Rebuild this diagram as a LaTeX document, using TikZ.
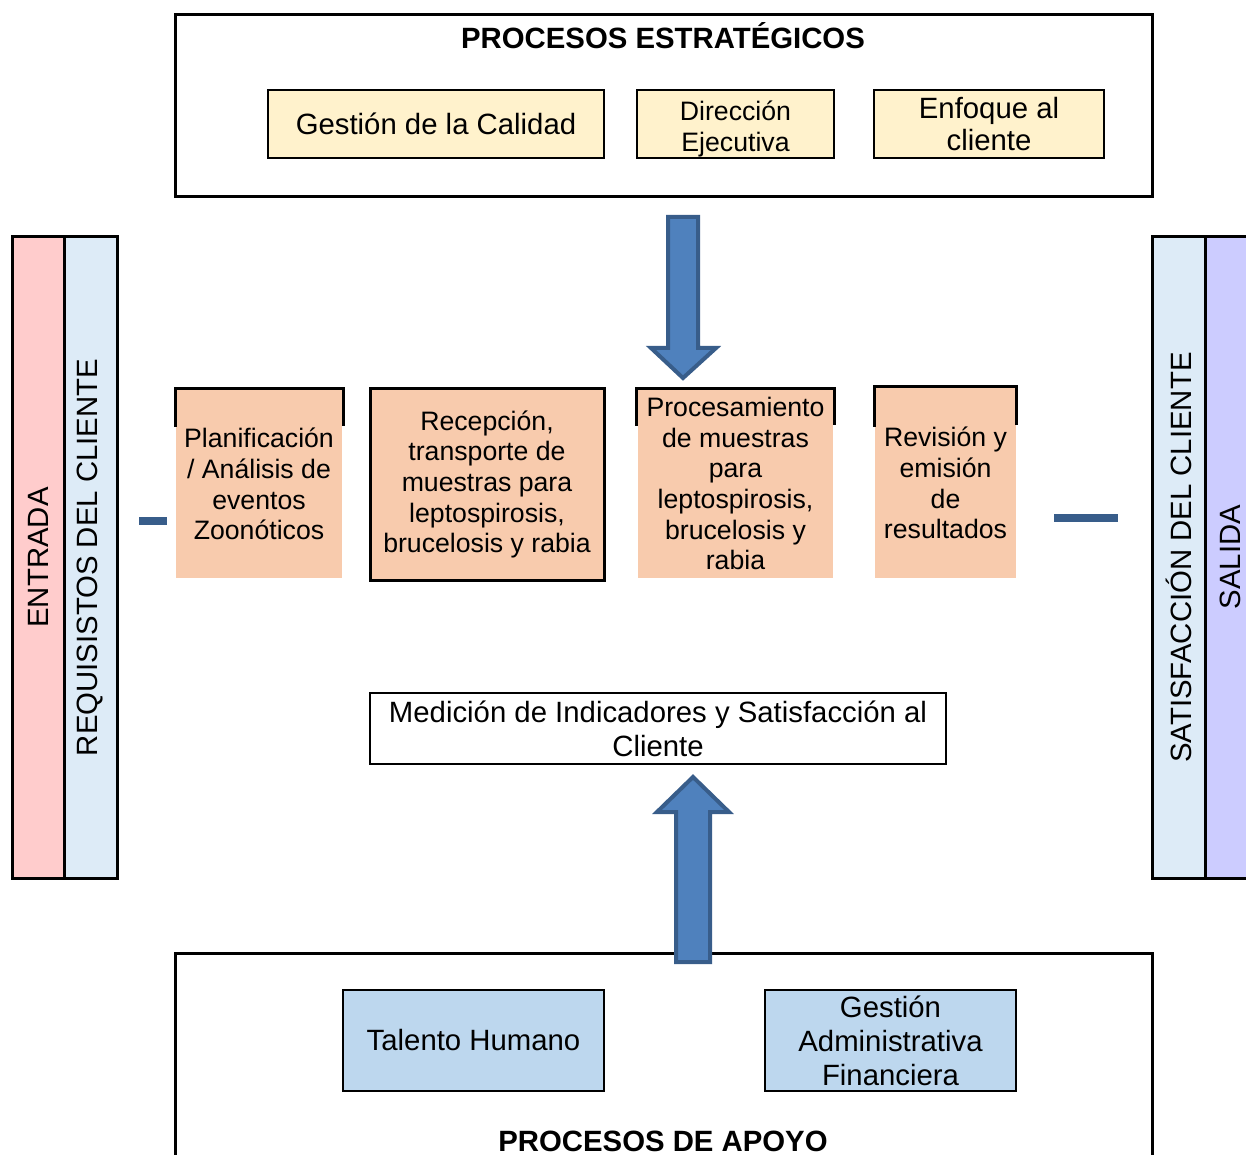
\documentclass[tikz,border=0pt]{standalone}
\usepackage{fontspec}
\setmainfont{Liberation Sans}
\usetikzlibrary{fit}
\definecolor{cyellow}{HTML}{FFF2CC}
\definecolor{corange}{HTML}{F8CBAD}
\definecolor{cpink}{HTML}{FFCCCC}
\definecolor{clblue}{HTML}{DDEBF7}
\definecolor{clav}{HTML}{CCCCFF}
\definecolor{csup}{HTML}{BDD7EE}
\definecolor{carrow}{HTML}{4F81BD}
\definecolor{carrowb}{HTML}{385D8A}
\begin{document}
\begin{tikzpicture}[x=0.75pt,y=-0.75pt,
  frame/.style={draw, line width=2.25pt, inner sep=0pt},
  bigtxt/.style={font=\fontsize{22}{25.5}\selectfont, align=center, inner sep=0pt},
  midtxt/.style={font=\fontsize{20}{23}\selectfont, align=center, inner sep=0pt},
  ybox/.style={draw, line width=1.1pt, fill=cyellow, inner sep=0pt},
  obox/.style={fill=corange, inner sep=0pt},
  sbox/.style={draw, line width=1.1pt, fill=csup, inner sep=0pt},
  bar/.style={draw, line width=2.25pt, inner sep=0pt},
  bartxt/.style={font=\fontsize{22}{25.5}\selectfont, rotate=90},
  barrow/.style={fill=carrow, draw=carrowb, line width=3pt, line join=miter},
  bracket/.style={draw, line width=2.25pt},
  dashbar/.style={fill=carrowb, inner sep=0pt}
]
\clip (0,0) rectangle (1246,1155);
\useasboundingbox (0,0) rectangle (1246,1155);
\fill[white] (0,0) rectangle (1246,1155);

% Strategic processes
\node[frame, fit={(175,15) (1152,197)}] (top) {};
\node[font=\bfseries\fontsize{22}{25}\selectfont] (toptitle) at (663,36) {PROCESOS ESTRAT\'EGICOS};
\node[ybox, fit={(268,90) (604,158)}] (gc) {};
\node[bigtxt] (gct) at (gc.center) {Gesti\'on de la Calidad};
\node[ybox, fit={(637,90) (834,158)}] (de) {};
\node[midtxt, font=\fontsize{20}{23.2}\selectfont] (det) at ([yshift=-3.5pt]de.center) {Direcci\'on\\Ejecutiva};
\node[ybox, fit={(874,90) (1104,158)}] (ec) {};
\node[bigtxt, font=\fontsize{22}{24}\selectfont] (ect) at (ec.center) {Enfoque al\\cliente};

% Down arrow
\draw[barrow] (668,217) -- (698,217) -- (698,348) -- (716,348) -- (683,378) -- (651,348) -- (668,348) -- cycle;

% Left bars
\node[bar, fill=cpink, fit={(12,237) (64,878)}] (entrada) {};
\node[bar, fill=clblue, fit={(64,237) (117,878)}] (req) {};
\node[bartxt] at (entrada.center) {ENTRADA};
\node[bartxt] at (req.center) {REQUISISTOS DEL CLIENTE};

% Right bars
\node[bar, fill=clav, fit={(1205,237) (1256,878)}] (salida) {};
\node[bar, fill=clblue, fit={(1152,237) (1205,878)}] (sat) {};
\node[bartxt] at (1230,557) {SALIDA};
\node[bartxt] at (sat.center) {SATISFACCI\'ON DEL CLIENTE};

% Dashes
\node[dashbar, fit={(139,517) (167,525)}] (dl) {};
\node[dashbar, fit={(1054,514) (1118,522)}] (dr) {};

% Operational processes
\node[obox, fit={(176,390) (342,578)}] (plan) {};
\node[midtxt] (plant) at (plan.center) {Planificaci\'on\\/ An\'alisis de\\eventos\\Zoon\'oticos};
\draw[bracket] (175,427) -- (175,389) -- (343,389) -- (343,426);
\node[obox, draw, line width=2.25pt, fit={(370,389) (604,580)}] (rec) {};
\node[midtxt] (rect) at (rec.center) {Recepci\'on,\\transporte de\\muestras para\\leptospirosis,\\brucelosis y rabia};
\node[obox, fit={(638,389) (833,578)}] (proc) {};
\node[midtxt] (proct) at (proc.center) {Procesamiento\\de muestras\\para\\leptospirosis,\\brucelosis y\\rabia};
\draw[bracket] (636,426) -- (636,389) -- (834,389) -- (834,425);
\node[obox, fit={(875,388) (1016,578)}] (rev) {};
\node[midtxt] (revt) at (rev.center) {Revisi\'on y\\emisi\'on\\de\\resultados};
\draw[bracket] (874,427) -- (874,387) -- (1016,387) -- (1016,425);

% Measurement
\node[draw, line width=1.5pt, fill=white, inner sep=0pt, fit={(370,693) (946,764)}] (med) {};
\node[bigtxt] (medt) at (med.center) {Medici\'on de Indicadores y Satisfacci\'on al\\Cliente};

% Support processes
\node[frame, fit={(175,953) (1152,1200)}] (bot) {};
\node[font=\bfseries\fontsize{22}{25}\selectfont] (bottitle) at (663,1141) {PROCESOS DE APOYO};
\node[sbox, fit={(343,990) (604,1091)}] (th) {};
\node[bigtxt] (tht) at (th.center) {Talento Humano};
\node[sbox, fit={(765,990) (1016,1091)}] (gaf) {};
\node[bigtxt] (gaft) at (gaf.center) {Gesti\'on\\Administrativa\\Financiera};

% Up arrow
\draw[barrow] (676,962) -- (710,962) -- (710,812) -- (729,812) -- (693,777) -- (657,812) -- (676,812) -- cycle;
\end{tikzpicture}
\end{document}
